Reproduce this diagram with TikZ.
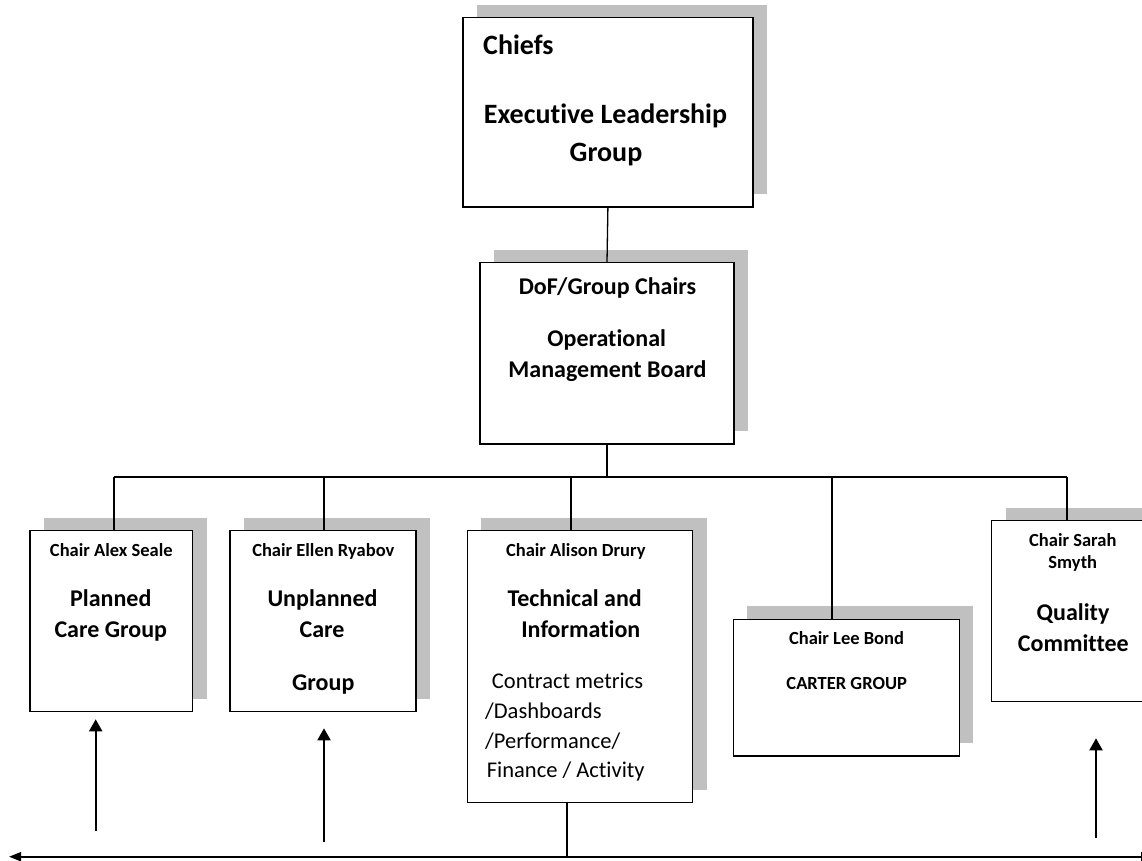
\documentclass[tikz,border=0pt]{standalone}
\usepackage{fontspec}
\setmainfont{Carlito}[Ligatures={NoCommon}]
\usetikzlibrary{arrows.meta,shadows}
\definecolor{shgray}{HTML}{C0C0C0}
\begin{document}
\begin{tikzpicture}[x=1pt,y=-1pt,
  box/.style={draw=black,line width=1.3pt,fill=white,inner sep=0pt,
    general shadow={fill=shgray,shadow xshift=14pt,shadow yshift=13pt}},
  conn/.style={draw=black,line width=1.3pt},
  uparr/.style={draw=black,line width=2pt,-{Triangle[length=12pt,width=13pt]}},
  ttop/.style={inner sep=0pt,text height=18pt,text depth=0pt,font=\fontsize{28}{30}\selectfont\bfseries},
  ttitle/.style={inner sep=0pt,text height=15.5pt,text depth=0pt,font=\fontsize{24}{26}\selectfont\bfseries},
  tchair/.style={inner sep=0pt,text height=11.9pt,text depth=0pt,font=\fontsize{18.5}{20}\selectfont\bfseries},
  tbody/.style={inner sep=0pt,text height=14.5pt,text depth=0pt,font=\fontsize{22.5}{24}\selectfont},
]
\useasboundingbox (0,0) rectangle (1142,860);

% boxes
\node[box,minimum width=290pt,minimum height=189.5pt] (chief) at (607.9,112.3) {};
\node[box,minimum width=254pt,minimum height=181.3pt] (ops) at (607,353.3) {};
\node[box,minimum width=162.7pt,minimum height=181pt] (b1) at (111.3,621.2) {};
\node[box,minimum width=186pt,minimum height=181pt] (b2) at (323,621.2) {};
\node[box,minimum width=225.4pt,minimum height=272pt] (b3) at (580,666.7) {};
\node[box,minimum width=226pt,minimum height=136.7pt] (b4) at (846.3,687.7) {};
\node[box,minimum width=163pt,minimum height=181pt] (b5) at (1073.3,611.2) {};

% top box text
\node[ttop,anchor=west] (t1a) at (483,45.8) {Chiefs};
\node[ttop] (t1b) at (605.5,114) {Executive Leadership};
\node[ttop] (t1c) at (606,152.5) {Group};

% ops text
\node[ttitle] (t2a) at (607.5,286.3) {DoF/Group Chairs};
\node[ttitle] (t2b) at (606.7,338.8) {Operational};
\node[ttitle] (t2c) at (607.5,369.7) {Management Board};

% b1
\node[tchair] (t3a) at (111.3,550.7) {Chair Alex Seale};
\node[ttitle] (t3b) at (110.8,598.8) {Planned};
\node[ttitle] (t3c) at (110.8,629.7) {Care Group};

% b2
\node[tchair] (t4a) at (323.3,550.7) {Chair Ellen Ryabov};
\node[ttitle] (t4b) at (322.5,598.8) {Unplanned};
\node[ttitle] (t4c) at (322,629.7) {Care};
\node[ttitle] (t4d) at (323.3,683) {Group};

% b3
\node[tchair] (t5a) at (575.8,551) {Chair Alison Drury};
\node[ttitle] (t5b) at (574.7,598.3) {Technical and};
\node[ttitle] (t5c) at (580.8,630) {Information};
\node[tbody,anchor=west] (t5d) at (491.7,681) {Contract metrics};
\node[tbody,anchor=west] (t5e) at (485,711) {/Dashboards};
\node[tbody,anchor=west] (t5f) at (485,741) {/Performance/};
\node[tbody,anchor=west] (t5g) at (486.7,770) {Finance / Activity};

% b4
\node[tchair] (t6a) at (846.5,638.7) {Chair Lee Bond};
\node[tchair] (t6b) at (846.7,683.8) {CARTER GROUP};

% b5
\node[tchair] (t7a) at (1072.8,540.8) {Chair Sarah};
\node[tchair] (t7b) at (1072.8,562.8) {Smyth};
\node[ttitle] (t7c) at (1073,612.5) {Quality};
\node[ttitle] (t7d) at (1073.3,643.7) {Committee};

% connectors
\draw[conn] (chief.south) -- (ops.north);
\coordinate (d1) at (114,477);
\coordinate (d2) at (324,477);
\coordinate (d3) at (571,477);
\coordinate (d4) at (832,477);
\coordinate (d5) at (1067,477);
\draw[conn] (ops.south) -- (ops.south |- d1);
\draw[conn] (d1) -- (d5);
\draw[conn] (d1) -- (d1 |- b1.north);
\draw[conn] (d2) -- (d2 |- b2.north);
\draw[conn] (d3) -- (d3 |- b3.north);
\draw[conn] (d4) -- (d4 |- b4.north);
\draw[conn] (d5) -- (d5 |- b5.north);

% bottom line
\coordinate (L) at (9,856.7);
\coordinate (R) at (1153,856.7);
\coordinate (d6) at (567,856.7);
\draw[conn] (d6 |- b3.south) -- (d6);
\draw[line width=2pt,{Triangle[length=12pt,width=9pt]}-{Triangle[length=12pt,width=9pt]}] (L) -- (R);

% up arrows
\coordinate (a1s) at (95.7,830.7);
\coordinate (a1t) at (95.7,719.3);
\coordinate (a2s) at (324,842.3);
\coordinate (a2t) at (324,728.3);
\coordinate (a5s) at (1096,838);
\coordinate (a5t) at (1096,738.3);
\draw[uparr] (a1s) -- (a1t);
\draw[uparr] (a2s) -- (a2t);
\draw[uparr] (a5s) -- (a5t);
\end{tikzpicture}
\end{document}
